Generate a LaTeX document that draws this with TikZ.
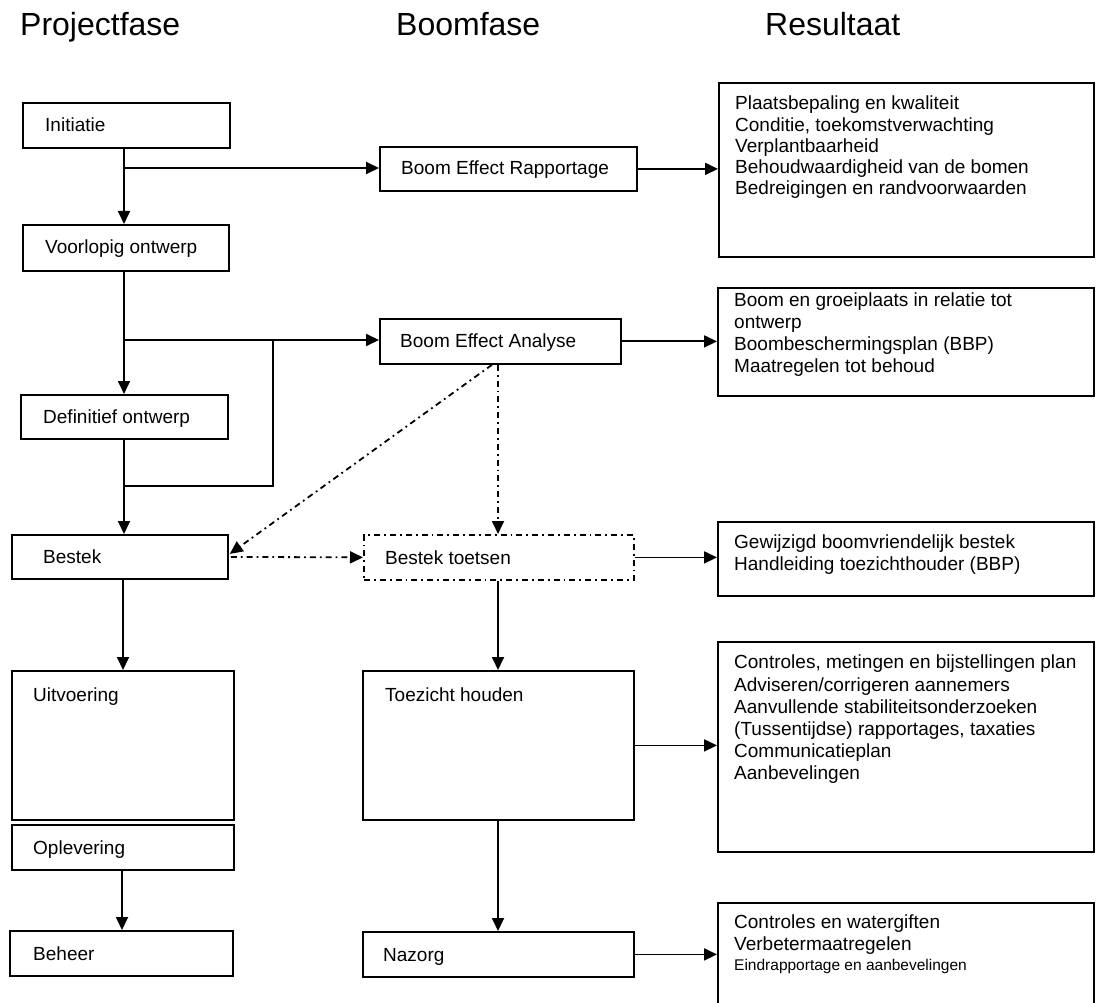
\documentclass[tikz,border=0pt]{standalone}
\usepackage{fontspec}
\setmainfont{Liberation Sans}
\usetikzlibrary{arrows.meta,calc}
\begin{document}
\begin{tikzpicture}[x=1pt,y=-1pt,
  box/.style={draw, line width=1.8pt, rectangle, inner sep=0pt, anchor=north west},
  lbl/.style={inner sep=0pt, anchor=base west, font=\fontsize{19}{22}\selectfont},
  reslbl/.style={inner sep=0pt, anchor=north west, align=left},
  ttl/.style={inner sep=0pt, anchor=base west, font=\fontsize{32}{38}\selectfont},
  ln/.style={line width=1.8pt},
  arr/.style={line width=1.8pt, -{Triangle[length=13pt,width=12pt]}},
  dd/.style={dash pattern=on 6pt off 4pt on 1.8pt off 4pt}]
\useasboundingbox (0,0) rectangle (1096,1003);
\clip (0,0) rectangle (1096,1003);

% titles
\node[ttl] (t1) at (20,36) {Projectfase};
\node[ttl] (t2) at (396,36) {Boomfase};
\node[ttl] (t3) at (765,36) {Resultaat};

% left column
\node[box, minimum width=207pt, minimum height=45pt] (init) at (22,102) {};
\node[box, minimum width=206pt, minimum height=46pt] (voor) at (22,224) {};
\node[box, minimum width=207pt, minimum height=44pt] (defi) at (20,394) {};
\node[box, minimum width=216pt, minimum height=44pt] (best) at (11,534) {};
\node[box, minimum width=222pt, minimum height=149pt] (uitv) at (11,670) {};
\node[box, minimum width=222pt, minimum height=45pt] (oplv) at (11,824) {};
\node[box, minimum width=223pt, minimum height=45pt] (beh) at (9,930) {};

\node[lbl] (l-init) at (45,132) {Initiatie};
\node[lbl] (l-voor) at (45,254) {Voorlopig ontwerp};
\node[lbl] (l-defi) at (43,423) {Definitief ontwerp};
\node[lbl] (l-best) at (43,563) {Bestek};
\node[lbl] (l-uitv) at (33,701) {Uitvoering};
\node[lbl] (l-oplv) at (33,854) {Oplevering};
\node[lbl] (l-beh) at (33,960) {Beheer};

% middle column
\node[box, minimum width=257pt, minimum height=44pt] (ber) at (379,146) {};
\node[box, minimum width=241pt, minimum height=45pt] (bea) at (379,318) {};
\node[box, dd, minimum width=270pt, minimum height=45pt] (bt) at (363,534) {};
\node[box, minimum width=271pt, minimum height=149pt] (toez) at (362,670) {};
\node[box, minimum width=271pt, minimum height=45pt] (naz) at (362,931) {};

\node[lbl] (l-ber) at (401,175) {Boom Effect Rapportage};
\node[lbl] (l-bea) at (400,348) {Boom Effect Analyse};
\node[lbl] (l-bt) at (385,564) {Bestek toetsen};
\node[lbl] (l-toez) at (385,701) {Toezicht houden};
\node[lbl] (l-naz) at (383,961) {Nazorg};

% right column
\node[box, minimum width=375pt, minimum height=174pt] (r1) at (718,82) {};
\node[box, minimum width=376pt, minimum height=108pt] (r2) at (717,287) {};
\node[box, minimum width=376pt, minimum height=74pt] (r3) at (717,521) {};
\node[box, minimum width=376pt, minimum height=210pt] (r4) at (717,641) {};
\node[box, minimum width=376pt, minimum height=130pt] (r5) at (717,902) {};

\node[reslbl, font=\fontsize{19}{21.2}\selectfont] (l-r1) at (735,96) {Plaatsbepaling en kwaliteit\\Conditie, toekomstverwachting\\Verplantbaarheid\\Behoudwaardigheid van de bomen\\Bedreigingen en randvoorwaarden};
\node[reslbl, font=\fontsize{19}{21.7}\selectfont] (l-r2) at (734,293) {Boom en groeiplaats in relatie tot\\ontwerp\\Boombeschermingsplan (BBP)\\Maatregelen tot behoud};
\node[reslbl, font=\fontsize{19}{21.5}\selectfont] (l-r3) at (734,535) {Gewijzigd boomvriendelijk bestek\\Handleiding toezichthouder (BBP)};
\node[reslbl, font=\fontsize{19}{22.2}\selectfont] (l-r4) at (734,655) {Controles, metingen en bijstellingen plan\\Adviseren/corrigeren aannemers\\Aanvullende stabiliteitsonderzoeken\\(Tussentijdse) rapportages, taxaties\\Communicatieplan\\Aanbevelingen};
\node[reslbl, font=\fontsize{19}{22}\selectfont] (l-r5) at (734,915) {Controles en watergiften\\Verbetermaatregelen};
\node[inner sep=0pt, anchor=base west, font=\fontsize{15.5}{18}\selectfont] (l-r5b) at (734,970) {Eindrapportage en aanbevelingen};

% connectors, left column
\coordinate (cA) at (124,0);
\coordinate (cB) at (123,0);
\coordinate (cC) at (122,0);
\coordinate (j1) at (124,168);
\coordinate (j2) at (124,340);
\coordinate (j3) at (124,486);
\coordinate (k) at (273,340);
\draw[arr] (init.south -| cA) -- (voor.north -| cA);
\draw[arr] (j1) -- (ber.west |- j1);
\draw[arr] (voor.south -| cA) -- (defi.north -| cA);
\draw[arr] (j2) -- (bea.west |- j2);
\draw[arr] (defi.south -| cA) -- (best.north -| cA);
\draw[ln] (j3) -| (k);
\draw[arr] (best.south -| cB) -- (uitv.north -| cB);
\draw[arr] (oplv.south -| cC) -- (beh.north -| cC);

% connectors, to results
\draw[arr] (ber.east) -- (r1.west |- ber.east);
\draw[arr] (bea.east) -- (r2.west |- bea.east);
\draw[arr] (bt.east) -- (r3.west |- bt.east);
\draw[arr] (toez.east) -- (r4.west |- toez.east);
\draw[arr] (naz.east) -- (r5.west |- naz.east);

% middle column
\coordinate (cD) at (498,0);
\coordinate (cE) at (492,0);
\draw[arr] (bt.south -| cD) -- (toez.north -| cD);
\draw[arr] (toez.south -| cD) -- (naz.north -| cD);
\draw[arr, dd] (bea.south -| cD) -- (bt.north -| cD);
\draw[arr, dd] (bea.south -| cE) -- ($(best.east)+(1,-3)$);
\draw[arr, dd] ($(best.east)+(2,0)$) -- (bt.west);
\end{tikzpicture}
\end{document}
